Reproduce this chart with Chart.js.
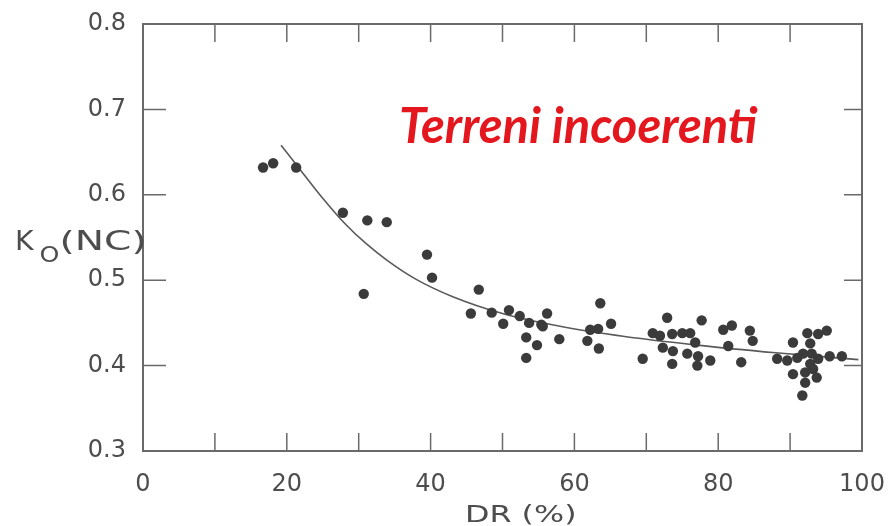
<!DOCTYPE html>
<html lang="it">

<head>
  <meta charset="UTF-8" />
  <title>K0(NC) - DR</title>
  <script src="https://cdn.jsdelivr.net/npm/chart.js"></script>
  <style>
    * {
      box-sizing: border-box;
      margin: 0;
      padding: 0
    }

    body {
      background: #fff;
      width: 889px;
      height: 526px;
      overflow: hidden
    }

    #wrap {
      width: 889px;
      height: 526px
    }
  </style>
</head>

<body>
  <div id="wrap"><canvas id="grafico" width="889" height="526"></canvas></div>
  <script>
    const drPunti = [16.7, 18.1, 21.3, 27.8, 31.2, 33.9, 39.5, 40.2, 30.7, 46.7, 45.6, 48.5, 50.9, 50.1, 52.4, 53.7, 55.4, 56.2, 55.6, 53.3,
      54.8, 53.3, 57.9, 63.6, 62.2, 63.3, 65.1, 61.8, 63.4, 69.5, 72.9, 70.9, 71.9, 73.6, 75.0, 76.1, 77.7, 76.8, 72.3, 73.7,
      73.6, 75.7, 77.2, 77.1, 78.9, 80.7, 81.9, 81.4, 84.4, 84.8, 83.2, 92.4, 95.1, 93.9, 90.4, 92.8, 88.2, 89.6, 91.0, 91.8,
      93.0, 93.9, 95.5, 97.2, 90.4, 92.1, 93.2, 93.7, 92.1, 91.7, 92.8];
    const k0Punti = [0.632, 0.637, 0.632, 0.579, 0.570, 0.568, 0.530, 0.503, 0.484, 0.489, 0.461, 0.462, 0.465, 0.449, 0.458, 0.450, 0.448, 0.461, 0.446, 0.433,
      0.424, 0.409, 0.431, 0.473, 0.442, 0.443, 0.449, 0.429, 0.420, 0.408, 0.456, 0.438, 0.435, 0.437, 0.438, 0.438, 0.453, 0.427, 0.421, 0.417,
      0.402, 0.414, 0.411, 0.400, 0.406, 0.442, 0.447, 0.423, 0.441, 0.429, 0.404, 0.438, 0.441, 0.437, 0.427, 0.426, 0.408, 0.406, 0.409, 0.414,
      0.414, 0.408, 0.411, 0.411, 0.390, 0.392, 0.396, 0.386, 0.380, 0.365, 0.402];

    // curva interpolante
    const drCurva = [19.2, 22, 25, 28, 31, 34, 38, 43, 50, 58, 67, 77, 88, 99.5];
    const k0Curva = [0.658, 0.628, 0.596, 0.567, 0.543, 0.523, 0.501, 0.481, 0.461, 0.446, 0.434, 0.424, 0.415, 0.407];

    const xTicks = [0, 20, 40, 60, 80, 100];
    const xTacche = [10, 20, 30, 40, 50, 60, 70, 80, 90];
    const yTicks = [0.3, 0.4, 0.5, 0.6, 0.7, 0.8];

    const grigio = '#4d4d4d';
    const bordo = '#6a6a6a';

    const cornice = {
      id: 'cornice',
      afterDraw(chart) {
        const { ctx, chartArea: a, scales: { x, y } } = chart;
        ctx.save();
        ctx.strokeStyle = bordo;
        ctx.lineWidth = 2;
        ctx.beginPath();
        ctx.moveTo(a.left, a.top); ctx.lineTo(a.right, a.top); ctx.lineTo(a.right, a.bottom);
        ctx.stroke();
        ctx.lineWidth = 1.5;
        ctx.beginPath();
        xTacche.forEach(v => {
          const px = x.getPixelForValue(v);
          ctx.moveTo(px, a.bottom); ctx.lineTo(px, a.bottom - 18);
          ctx.moveTo(px, a.top); ctx.lineTo(px, a.top + 18);
        });
        yTicks.slice(1, -1).forEach(v => {
          const py = y.getPixelForValue(v);
          ctx.moveTo(a.left, py); ctx.lineTo(a.left + 23, py);
          ctx.moveTo(a.right, py); ctx.lineTo(a.right - 18, py);
        });
        ctx.stroke();

        // titoli assi (testo allargato come nell'originale)
        ctx.fillStyle = grigio;
        ctx.textBaseline = 'alphabetic';
        const largo = (t, px, py, font, s) => {
          ctx.save(); ctx.font = font; ctx.translate(px, py); ctx.scale(s, 1); ctx.fillText(t, 0, 0);
          const w = ctx.measureText(t).width * s; ctx.restore(); return w;
        };
        let cx = 15;
        cx += largo('K', cx, 250, '27px "DejaVu Sans"', 1.05) + 6;
        cx += largo('O', cx, 262, '22px "DejaVu Sans"', 1.15);
        largo('(NC)', cx, 250, '27px "DejaVu Sans"', 1.45);
        largo('DR (%)', 465, 522, '23px "DejaVu Sans"', 1.38);

        // etichetta rossa
        ctx.font = 'italic bold 40px Lato';
        const w = ctx.measureText('Terreni incoerenti').width;
        const size = 40 * 358 / w;
        ctx.font = `italic bold ${size.toFixed(1)}px Lato`;
        ctx.fillStyle = '#e3171d';
        ctx.fillText('Terreni incoerenti', 399, 143);
        ctx.restore();
      }
    };

    const ctx = document.getElementById('grafico').getContext('2d');
    new Chart(ctx, {
      type: 'scatter',
      data: {
        datasets: [
          {
            label: 'Dati',
            data: drPunti.map((d, i) => ({ x: d, y: k0Punti[i] })),
            backgroundColor: '#3b3b3b',
            borderWidth: 0,
            pointRadius: 5.2
          },
          {
            label: 'Curva',
            data: drCurva.map((d, i) => ({ x: d, y: k0Curva[i] })),
            showLine: true,
            borderColor: '#5a5a5a',
            borderWidth: 1.6,
            pointRadius: 0,
            cubicInterpolationMode: 'monotone'
          }
        ]
      },
      options: {
        responsive: false,
        animation: false,
        layout: { padding: { top: 24, right: 27, left: 0, bottom: 0 } },
        plugins: { legend: { display: false }, tooltip: { enabled: false } },
        scales: {
          x: {
            type: 'linear',
            min: 0,
            max: 100,
            afterBuildTicks: s => { s.ticks = xTicks.map(v => ({ value: v })); },
            afterFit: s => { s.height = 75; s.paddingLeft = 0; s.paddingRight = 0; },
            grid: { display: false, drawTicks: false },
            border: { display: true, color: bordo, width: 2 },
            ticks: { padding: 19, color: grigio, font: { family: 'DejaVu Sans', size: 24 } }
          },
          y: {
            min: 0.3,
            max: 0.8,
            afterBuildTicks: s => { s.ticks = yTicks.map(v => ({ value: v })); },
            afterFit: s => { s.width = 143; s.paddingTop = 0; s.paddingBottom = 0; },
            grid: { display: false, drawTicks: false },
            border: { display: true, color: bordo, width: 2 },
            ticks: {
              padding: 17, color: grigio, font: { family: 'DejaVu Sans', size: 24 },
              callback: v => v.toFixed(1)
            }
          }
        }
      },
      plugins: [cornice]
    });
  </script>
</body>

</html>
